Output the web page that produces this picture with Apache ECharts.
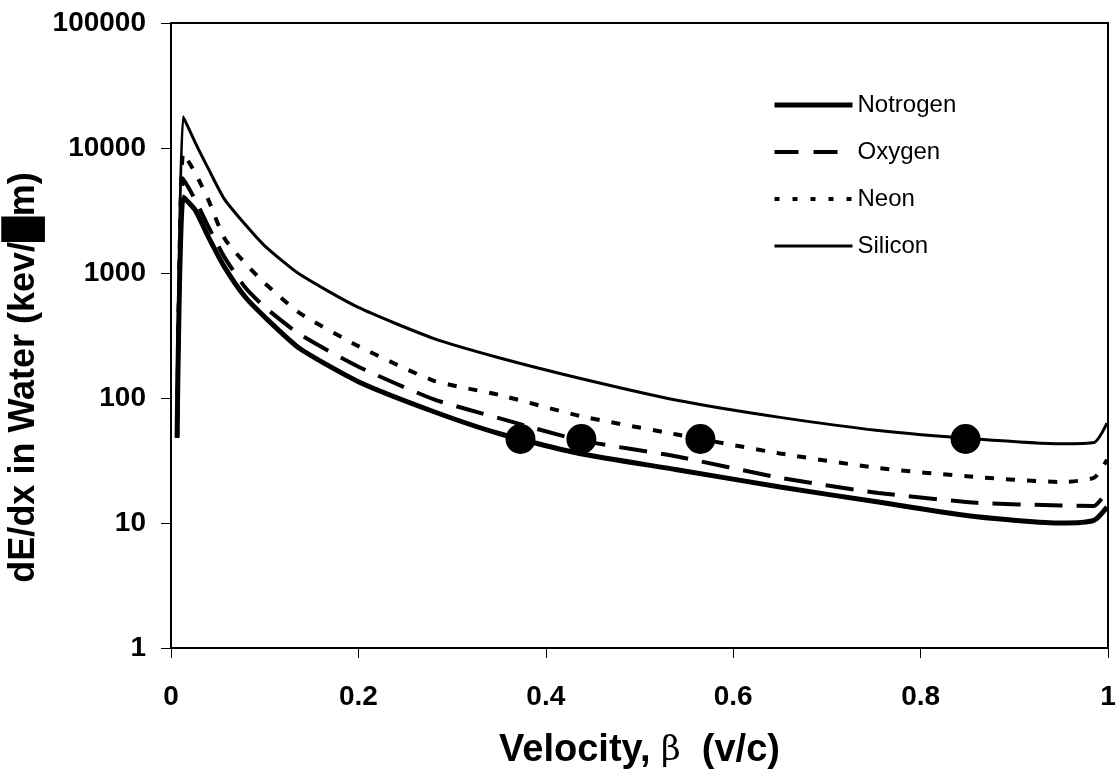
<!DOCTYPE html>
<html>
<head>
<meta charset="utf-8">
<script src="https://cdn.jsdelivr.net/npm/echarts@6/dist/echarts.min.js"></script>
<style>
  html, body { margin: 0; padding: 0; background: #fff; }
  #chart { width: 1118px; height: 781px; }
</style>
</head>
<body>
<div id="chart"></div>
<script>
// velocity (beta) sample points, shared by all four curves
const beta = [0.0065, 0.013, 0.026, 0.04, 0.057, 0.079, 0.1, 0.137, 0.2, 0.28, 0.35, 0.436, 0.54, 0.65, 0.755, 0.86, 0.95, 0.985, 0.999]
// dE/dx in water
const nitrogen = [48, 4050, 3170, 1940, 1120, 645, 445, 250, 135, 78, 52, 36, 26.7, 19.4, 14.7, 11.2, 10, 10.5, 13.4]
const oxygen = [48, 5700, 3830, 2340, 1340, 770, 535, 325, 178, 98, 69, 46, 34, 23, 17.4, 14.5, 13.8, 13.7, 18]
const neon = [48, 9100, 6300, 3830, 1900, 1200, 830, 480, 260, 138, 106, 72, 51, 36, 27.5, 23.3, 21.3, 23, 32]
const silicon = [48, 17800, 11000, 6800, 3900, 2450, 1650, 980, 530, 300, 210, 144, 96, 70, 55, 47, 43, 44, 63]
// marked points
const dotBeta = [0.373, 0.438, 0.565, 0.848]
const dotValue = [47, 47, 47, 47]
// names and tick labels
const seriesNames = ['Notrogen', 'Oxygen', 'Neon', 'Silicon']
const yTicks = [1, 10, 100, 1000, 10000, 100000]

const font = "'Liberation Sans', Arial, sans-serif"

// line look for each series in the plot
const styles = {
  Notrogen: { color: '#000', width: 5, type: 'solid' },
  Oxygen: { color: '#000', width: 4, type: [28, 14] },
  Neon: { color: '#000', width: 4, type: [9, 12] },
  Silicon: { color: '#000', width: 3, type: 'solid' }
}
// legend samples are drawn shorter, so the dash pattern is tighter there
const legendStyles = {
  Notrogen: { color: '#000', width: 5, type: 'solid' },
  Oxygen: { color: '#000', width: 4, type: [24, 15] },
  Neon: { color: '#000', width: 4, type: [5, 13] },
  Silicon: { color: '#000', width: 3, type: 'solid' }
}

function pairs(xs, ys) {
  return xs.map((x, i) => [x, ys[i]])
}

function lineSeries(name, values) {
  return {
    name: name,
    type: 'line',
    data: pairs(beta, values),
    symbol: 'none',
    smooth: 0.2,
    lineStyle: styles[name],
    itemStyle: { color: '#000' },
    z: 3
  }
}

const chart = echarts.init(document.getElementById('chart'))
const option = {
  backgroundColor: '#fff',
  animation: false,
  grid: {
    left: 171, right: 10, top: 23, bottom: 133,
    outerBoundsMode: 'none',
    show: true, borderColor: '#000', borderWidth: 2
  },
  legend: {
    data: seriesNames.map(n => ({ name: n, lineStyle: legendStyles[n], itemStyle: { opacity: 0 } })),
    orient: 'vertical',
    left: 767, top: 88,
    itemWidth: 78, itemHeight: 14, itemGap: 23,
    itemStyle: { opacity: 0 },
    textStyle: { fontFamily: font, fontSize: 24, color: '#000' }
  },
  xAxis: {
    type: 'value',
    min: 0, max: 1, interval: 0.2,
    name: 'Velocity, {b|β}  (v/c)',
    nameLocation: 'middle',
    nameGap: 84,
    nameTextStyle: {
      fontFamily: font, fontWeight: 'bold', fontSize: 38, color: '#000',
      rich: { b: { fontFamily: "'DejaVu Serif', serif", fontWeight: 'normal', fontSize: 34, color: '#000' } }
    },
    axisLine: { lineStyle: { color: '#000', width: 2 } },
    axisTick: { show: true, length: 10, lineStyle: { color: '#000' } },
    axisLabel: { fontFamily: font, fontWeight: 'bold', fontSize: 28, color: '#000', margin: 35 },
    splitLine: { show: false }
  },
  yAxis: {
    type: 'log',
    logBase: 10,
    min: yTicks[0], max: yTicks[yTicks.length - 1],
    name: 'dE/dx in Water (kev/█m)',
    nameLocation: 'middle',
    nameGap: 120,
    nameRotate: 90,
    nameTextStyle: { fontFamily: font, fontWeight: 'bold', fontSize: 36, color: '#000', padding: [0, 84, 0, 0] },
    axisLine: { lineStyle: { color: '#000', width: 2 } },
    axisTick: { show: true, length: 10, lineStyle: { color: '#000' } },
    axisLabel: {
      fontFamily: font, fontWeight: 'bold', fontSize: 28, color: '#000', margin: 25,
      formatter: v => String(Math.round(v))
    },
    splitLine: { show: false }
  },
  series: [
    lineSeries('Notrogen', nitrogen),
    lineSeries('Oxygen', oxygen),
    lineSeries('Neon', neon),
    lineSeries('Silicon', silicon),
    {
      name: 'points',
      type: 'scatter',
      data: pairs(dotBeta, dotValue),
      symbol: 'circle',
      symbolSize: 30,
      itemStyle: { color: '#000', opacity: 1 },
      z: 5
    }
  ]
}
option && chart.setOption(option, true)
window.addEventListener('resize', function () {
  chart.resize()
})
</script>
</body>
</html>
